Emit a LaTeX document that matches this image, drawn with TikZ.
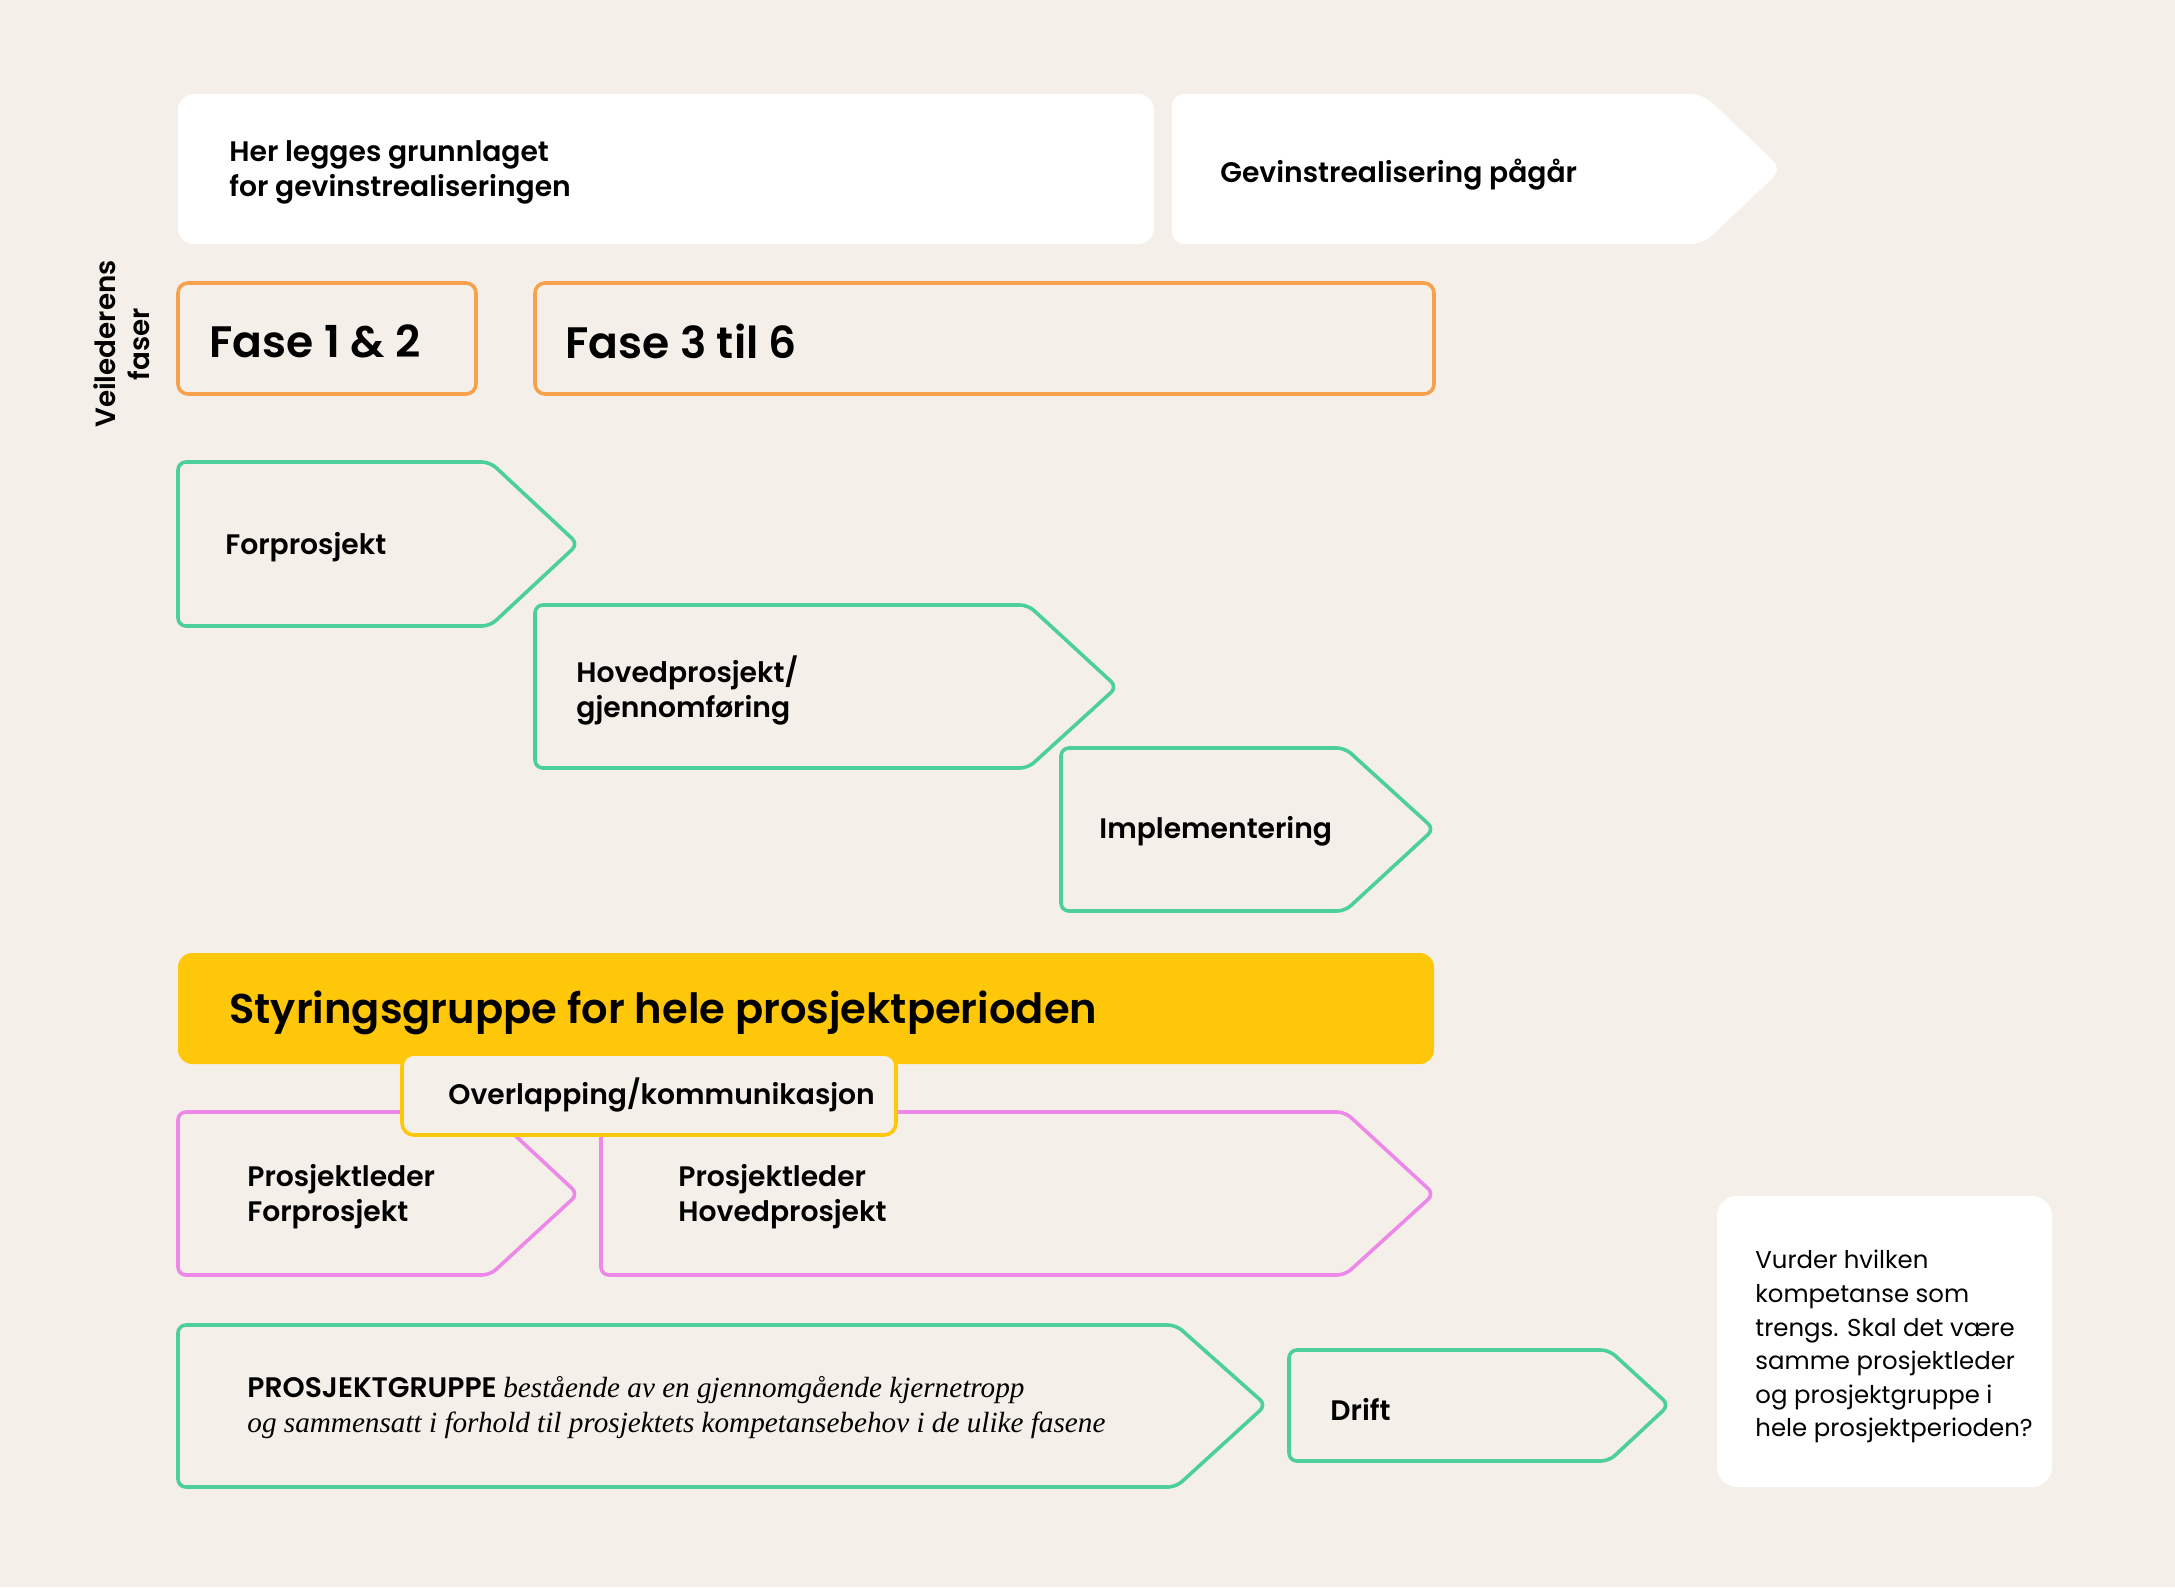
\documentclass[tikz,border=0pt]{standalone}
\usepackage{fontspec}
\setmainfont{Poppins}[BoldFont={Poppins SemiBold}]
\newfontfamily\serifit{Liberation Serif}
\definecolor{bgcream}{RGB}{244,240,233}
\definecolor{fasegreen}{RGB}{77,207,153}
\definecolor{faseorange}{RGB}{247,161,77}
\definecolor{lederpink}{RGB}{238,136,232}
\definecolor{styreyellow}{RGB}{255,199,10}

\begin{document}
\begin{tikzpicture}[x=0.5pt,y=-0.5pt,
  greenline/.style={draw=fasegreen,line width=1.8pt,rounded corners=4pt},
  pinkline/.style={draw=lederpink,line width=1.8pt,rounded corners=4pt},
  orangebox/.style={draw=faseorange,line width=1.8pt,rounded corners=5pt},
  whitebox/.style={fill=white,rounded corners=8pt},
  lbl/.style={anchor=west,align=left,inner sep=0pt,font=\fontsize{14.1}{17.5}\selectfont\bfseries},
  faselbl/.style={anchor=west,inner sep=0pt,font=\fontsize{22}{24}\selectfont\bfseries},
  notelbl/.style={anchor=north west,align=left,inner sep=0pt,font=\fontsize{12.2}{16.8}\selectfont}]
\useasboundingbox (0,0) rectangle (2175,1587);
\fill[bgcream] (0,0) rectangle (2175,1587);

% gevinster
\fill[whitebox] (178,94) rectangle (1154,244);
\node[lbl] (grunnlag) at (229,172) {Her legges grunnlaget\\for gevinstrealiseringen};
\fill[white,rounded corners=6pt] (1172,94) -- (1703,94) -- (1782,169) -- (1703,244) -- (1172,244) -- cycle;
\node[lbl] (gevinst) at (1220,175) {Gevinstrealisering pågår};

% veilederens faser
\node[rotate=90,align=center,inner sep=0pt,font=\fontsize{13.9}{17}\selectfont\bfseries] (veileder) at (122,344) {Veilederens\\faser};
\draw[orangebox] (178,283) rectangle (476,394);
\node[faselbl] (fase12) at (209,341) {Fase 1 \& 2};
\draw[orangebox] (535,283) rectangle (1434,394);
\node[faselbl] (fase36) at (565,341) {Fase 3 til 6};

% prosjektfaser
\draw[greenline] (178,462) -- (490,462) -- (578,544) -- (490,626) -- (178,626) -- cycle;
\node[lbl] (forprosjekt) at (225,547) {Forprosjekt};
\draw[greenline] (535,605) -- (1028,605) -- (1117,687) -- (1028,768) -- (535,768) -- cycle;
\node[lbl] (hovedprosjekt) at (576,690) {Hovedprosjekt/\\gjennomføring};
\draw[greenline] (1061,748) -- (1345,748) -- (1434,829) -- (1345,911) -- (1061,911) -- cycle;
\node[lbl] (implementering) at (1099,831) {Implementering};

% styringsgruppe
\fill[styreyellow,rounded corners=7pt] (178,953) rectangle (1434,1064);
\node[faselbl,font=\fontsize{20.8}{24}\selectfont\bfseries] (styring) at (229,1013) {Styringsgruppe for hele prosjektperioden};

% prosjektledere
\draw[pinkline] (178,1112) -- (490,1112) -- (578,1194) -- (490,1275) -- (178,1275) -- cycle;
\node[lbl] (plfor) at (247,1197) {Prosjektleder\\Forprosjekt};
\draw[pinkline] (601,1112) -- (1345,1112) -- (1434,1194) -- (1345,1275) -- (601,1275) -- cycle;
\node[lbl] (plhoved) at (678,1197) {Prosjektleder\\Hovedprosjekt};
\draw[draw=styreyellow,fill=bgcream,line width=1.8pt,rounded corners=6pt] (402,1054) rectangle (896,1135);
\node[lbl] (overlapp) at (448,1095) {Overlapping/kommunikasjon};

% prosjektgruppe og drift
\draw[greenline] (178,1325) -- (1176,1325) -- (1266,1405) -- (1176,1487) -- (178,1487) -- cycle;
\node[lbl] (gruppe) at (247,1408) {PROSJEKTGRUPPE {\serifit\itshape\mdseries\fontsize{14.6}{17.5}\selectfont bestående av en gjennomgående kjernetropp}\\{\serifit\itshape\mdseries\fontsize{14.6}{17.5}\selectfont og sammensatt i forhold til prosjektets kompetansebehov i de ulike fasene}};
\draw[greenline] (1289,1350) -- (1609,1350) -- (1669,1405) -- (1609,1461) -- (1289,1461) -- cycle;
\node[lbl] (drift) at (1330,1409) {Drift};

% merknad
\fill[whitebox,rounded corners=10pt] (1717,1196) rectangle (2052,1487);
\node[notelbl] (vurder) at (1755,1250) {Vurder hvilken\\kompetanse som\\trengs. Skal det være\\samme prosjektleder\\og prosjektgruppe i\\hele prosjektperioden?};
\end{tikzpicture}
\end{document}
